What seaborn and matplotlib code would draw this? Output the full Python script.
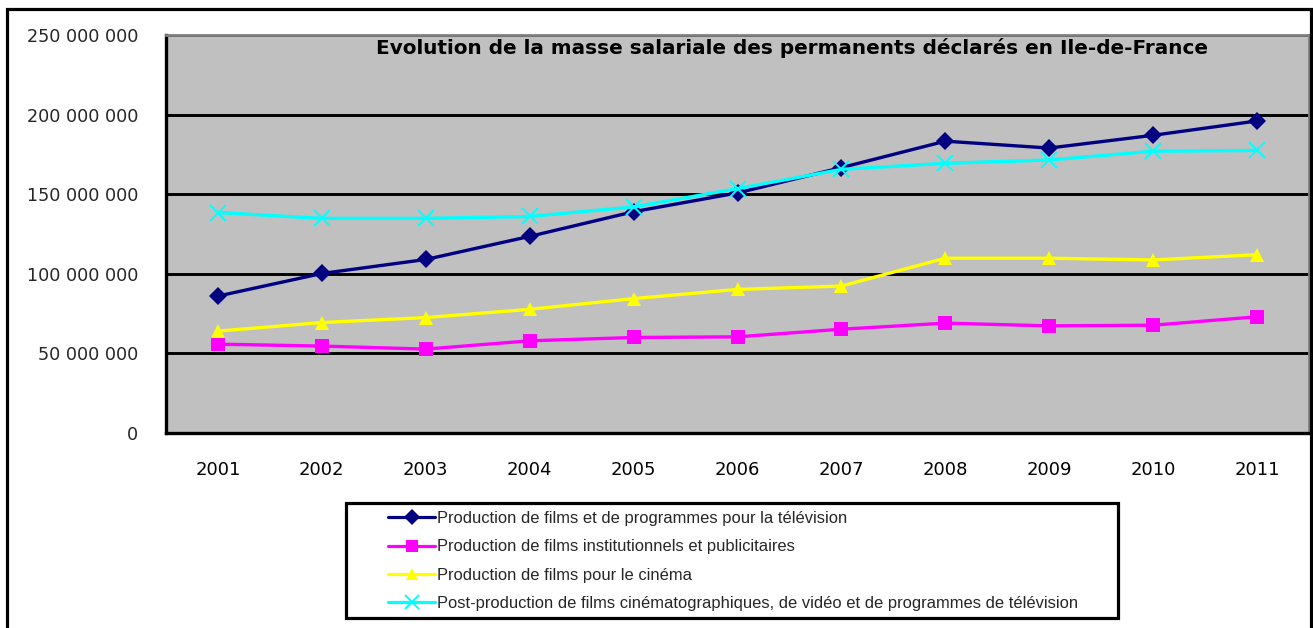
import matplotlib
matplotlib.use("Agg")
import matplotlib.pyplot as plt
from matplotlib.ticker import FuncFormatter, FixedLocator, MultipleLocator
from matplotlib.patches import Rectangle
from matplotlib.lines import Line2D
import seaborn as sns
import pandas as pd

years = ["2001", "2002", "2003", "2004", "2005", "2006", "2007", "2008", "2009", "2010", "2011"]
tv = [86.0, 100.2, 109.0, 123.5, 139.0, 150.8, 166.7, 183.3, 179.0, 187.0, 196.0]
instit = [55.8, 54.6, 52.7, 57.9, 60.0, 60.4, 65.2, 69.0, 67.3, 67.7, 73.0]
cinema = [64.0, 69.4, 72.5, 77.7, 84.4, 90.2, 92.3, 109.8, 109.8, 108.7, 112.0]
postprod = [138.5, 134.8, 134.8, 136.0, 142.0, 153.5, 165.6, 169.4, 171.5, 177.0, 177.5]

series_names = [
    "Production de films et de programmes pour la télévision",
    "Production de films institutionnels et publicitaires",
    "Production de films pour le cinéma",
    "Post-production de films cinématographiques, de vidéo et de programmes de télévision",
]
title = "Evolution de la masse salariale des permanents déclarés en Ile-de-France"

rows = []
for name, vals in zip(series_names, [tv, instit, cinema, postprod]):
    for i, v in enumerate(vals):
        rows.append({"pos": i, "year": years[i], "value": v * 1e6, "serie": name})
df = pd.DataFrame(rows)

sns.set_theme(style="white")
plt.rcParams['font.family'] = ['Liberation Sans', 'DejaVu Sans']

W, H = 1313, 628
fig = plt.figure(figsize=(W / 100, H / 100), dpi=100)
ax = fig.add_axes([166/W, 1-433/H, (1309-166)/W, (433-35)/H])
ax.set_facecolor("#C0C0C0")

palette = {series_names[0]: "#000080", series_names[1]: "#FF00FF",
           series_names[2]: "#FFFF00", series_names[3]: "#00FFFF"}
markers = {series_names[0]: "D", series_names[1]: "s",
           series_names[2]: "^", series_names[3]: "X"}

sns.lineplot(data=df, x="pos", y="value", hue="serie", style="serie",
             palette=palette, markers=markers, dashes=False, linewidth=2.4,
             markersize=9.5, markeredgewidth=0, ax=ax, legend=False, zorder=3)

ax.lines[3].set_marker("x")
ax.lines[3].set_markeredgewidth(1.4)
ax.lines[3].set_markeredgecolor("#00FFFF")
ax.lines[3].set_markersize(11)
for ln in ax.lines[:3]:
    ln.set_markeredgewidth(0)

ax.set_xlim(-0.5, 10.5)
ax.set_ylim(0, 250e6)
ax.yaxis.set_major_locator(MultipleLocator(50e6))
ax.yaxis.set_major_formatter(FuncFormatter(lambda v, p: f"{int(v):,}".replace(",", " ")))
ax.set_xticks(range(len(years)))
ax.set_xticklabels(years)
ax.xaxis.set_minor_locator(FixedLocator([i - 0.5 for i in range(len(years) + 1)]))
ax.tick_params(axis="x", which="major", length=0, pad=20, labelsize=13, colors="black")
ax.tick_params(axis="x", which="minor", length=7, width=2.3, direction="out", color="black")
ax.tick_params(axis="y", which="major", length=7, width=2.3, direction="out", color="black",
               labelsize=12.7, pad=13)
for lab in ax.get_xticklabels() + ax.get_yticklabels():
    lab.set_family(["DejaVu Sans"])
ax.set_xlabel("")
ax.set_ylabel("")
ax.grid(axis="y", color="black", linewidth=2.1, zorder=1)
ax.set_axisbelow(True)

for side in ["left", "bottom"]:
    ax.spines[side].set_color("black")
    ax.spines[side].set_linewidth(2.4)
for side in ["top", "right"]:
    ax.spines[side].set_color("#808080")
    ax.spines[side].set_linewidth(2)

fig.text(792/W, 1-48/H, title, ha="center", va="center",
         fontsize=14.4, fontweight="bold", color="black", family=["DejaVu Sans"])

# legend
handles = []
for i, name in enumerate(series_names):
    ln = ax.lines[i]
    handles.append(Line2D([0], [0], color=ln.get_color(), linewidth=2.3,
                          marker=ln.get_marker(), markersize=8 if i < 3 else 10,
                          markeredgewidth=0 if i < 3 else 1.4,
                          markeredgecolor=ln.get_color(), markerfacecolor=ln.get_color()))
leg = fig.legend(handles, series_names, loc="center left",
                 bbox_to_anchor=(388/W, 1-561/H), bbox_transform=fig.transFigure,
                 frameon=False, prop={"size": 11.9},
                 handlelength=2.85, handletextpad=0.12, labelspacing=0.8,
                 borderpad=0, borderaxespad=0)

fig.patches.append(Rectangle((346/W, 1-618/H), (1118-346)/W, (618-503)/H,
                             transform=fig.transFigure, fill=False,
                             edgecolor="black", linewidth=2.3, zorder=0))

# outer border
fig.patches.append(Rectangle((7/W, -0.05), (1311-7)/W, 1.05 - 9/H,
                             transform=fig.transFigure, fill=False,
                             edgecolor="black", linewidth=2.3, zorder=0))

fig.savefig("out.png", dpi=100)
